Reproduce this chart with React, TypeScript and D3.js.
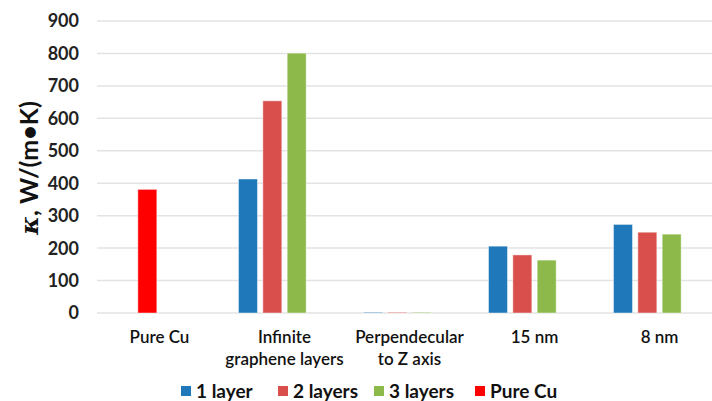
import React from "react";
import * as d3 from "d3";

const categories = [
  ["Pure Cu"],
  ["Infinite", "graphene layers"],
  ["Perpendecular", "to Z axis"],
  ["15 nm"],
  ["8  nm"],
];
const seriesNames = ["1 layer", "2 layers", "3 layers", "Pure Cu"];
const seriesColors = ["#1f78b9", "#d94f4c", "#8cb94a", "#ff0000"];
// values per category, in series slots (1 layer, 2 layers, 3 layers, Pure Cu)
const oneLayer = [null, 413, 2, 206, 273];
const twoLayers = [null, 654, 2, 179, 249];
const threeLayers = [null, 801, 2, 163, 243];
const pureCu = [381, null, null, null, null];
const yTicks = [0, 100, 200, 300, 400, 500, 600, 700, 800, 900];

const W = 712;
const H = 401;
const FONT = "Lato, 'Open Sans', sans-serif";

export default function App() {
  const x0 = d3
    .scaleBand<number>()
    .domain(d3.range(categories.length))
    .range([97, 722])
    .paddingInner(0)
    .paddingOuter(0);
  const slots = d3.scaleBand<number>().domain([0, 1, 2, 3]).range([-46, 46]).paddingInner(0.22);
  const y = d3.scaleLinear().domain([0, 900]).range([313, 21]);

  type Bar = { key: string; x: number; w: number; v: number; color: string };
  const bars: Bar[] = [];
  const seriesData = [oneLayer, twoLayers, threeLayers];
  categories.forEach((_, ci) => {
    const cx = x0(ci)! + x0.bandwidth() / 2;
    seriesData.forEach((arr, si) => {
      const v = arr[ci];
      if (v != null) bars.push({ key: `${si}-${ci}`, x: cx + slots(si)!, w: slots.bandwidth(), v, color: seriesColors[si] });
    });
    const pv = pureCu[ci];
    // the copper reference bar sits in the second slot of its group
    if (pv != null) bars.push({ key: `cu-${ci}`, x: cx + slots(1)!, w: slots.bandwidth(), v: pv, color: seriesColors[3] });
  });

  const legendX = [181, 278, 374, 475];

  return (
    <svg width={W} height={H} style={{ position: "absolute", left: 0, top: 0, background: "#fff" }} fontFamily={FONT}>
      <rect width={W} height={H} fill="#fff" />
      {yTicks.map((t) => (
        <g key={t}>
          <line x1={97} x2={W} y1={y(t)} y2={y(t)} stroke="#e3e3e3" strokeWidth={1.5} />
          <text x={79} y={y(t)} dy="0.36em" textAnchor="end" fontSize={18} fontWeight={700} fill="#222">
            {t}
          </text>
        </g>
      ))}
      {bars.map((b) => (
        <rect
          key={b.key}
          x={b.x}
          y={y(b.v)}
          width={b.w}
          height={y(0) - y(b.v)}
          fill={b.color}
          stroke="#ffffff"
          strokeOpacity={0.45}
          strokeWidth={1}
        />
      ))}
      {categories.map((lines, ci) => (
        <text key={ci} x={x0(ci)! + x0.bandwidth() / 2} y={343} textAnchor="middle" fontSize={17} fontWeight={600} fill="#111">
          {lines.map((l, li) => (
            <tspan key={li} x={x0(ci)! + x0.bandwidth() / 2} dy={li === 0 ? 0 : 22}>
              {l}
            </tspan>
          ))}
        </text>
      ))}
      <text transform="translate(38,168) rotate(-90)" textAnchor="middle" fontSize={25} fontWeight={700} fill="#111">
        <tspan fontStyle="italic" fontFamily="'DejaVu Serif', serif">κ</tspan>
        <tspan>, W/(m•K)</tspan>
      </text>
      {seriesNames.map((name, i) => (
        <g key={name}>
          <rect x={legendX[i]} y={386} width={10} height={10} fill={seriesColors[i]} />
          <text x={legendX[i] + 15} y={391} dy="0.36em" fontSize={19} fontWeight={700} fill="#111">
            {name}
          </text>
        </g>
      ))}
    </svg>
  );
}
